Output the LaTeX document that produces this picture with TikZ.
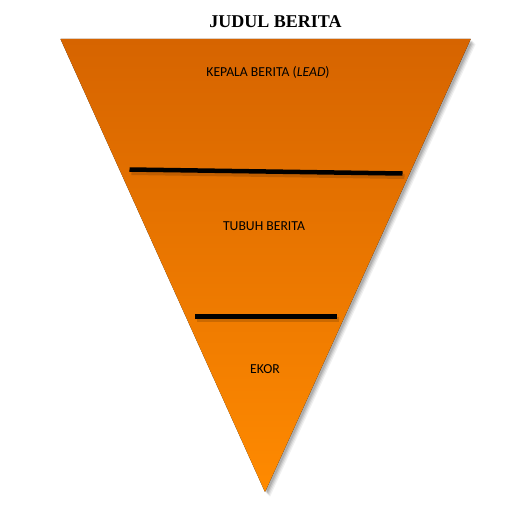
\documentclass[tikz,border=0pt]{standalone}
\usepackage{fontspec}
\setmainfont{Liberation Serif}
\newfontfamily\bodyfont{Carlito}
\usetikzlibrary{calc}
\begin{document}
\begin{tikzpicture}[x=1pt,y=-1pt,
  label/.style={font=\bodyfont\fontsize{13.7}{15}\selectfont, text=black, inner sep=0pt},
  divider/.style={line width=4.5pt, black},
  shadowline/.style={line width=5pt, black, opacity=0.15}]
\useasboundingbox[fill=white] (0,0) rectangle (532,527);
\definecolor{topor}{HTML}{D66400}
\definecolor{botor}{HTML}{FF8A00}
% shadow
\foreach \d/\o in {5/0.06,4/0.08,3/0.10,2/0.12}
  \fill[black, opacity=\o] (60.5+\d,39+\d) -- (470.7+\d,39+\d) -- (265+\d,492+\d) -- cycle;
% triangle
\coordinate (tl) at (60.5,39);
\coordinate (tr) at (470.7,39);
\coordinate (bt) at (265,492);
\fill[top color=topor, bottom color=botor] (tl) -- (tr) -- (bt) -- cycle;
% title
\node[font=\bfseries\fontsize{18}{20}\selectfont, inner sep=0pt] (title) at (275.5,22) {JUDUL BERITA};
% dividers
\coordinate (a1) at (129.5,169.5);
\coordinate (a2) at (402.5,173.5);
\coordinate (b1) at (195,316.5);
\coordinate (b2) at (336.5,316.5);
\draw[shadowline] ($(a1)+(2,3)$) -- ($(a2)+(2,3)$);
\draw[shadowline] ($(b1)+(2,3)$) -- ($(b2)+(2,3)$);
\draw[divider] (a1) -- (a2);
\draw[divider] (b1) -- (b2);
% labels
\node[label] (lead) at (268,72) {KEPALA BERITA ({\itshape LEAD})};
\node[label] (body) at (264,226) {TUBUH BERITA};
\node[label] (tail) at (265,369.5) {EKOR};
\end{tikzpicture}
\end{document}
